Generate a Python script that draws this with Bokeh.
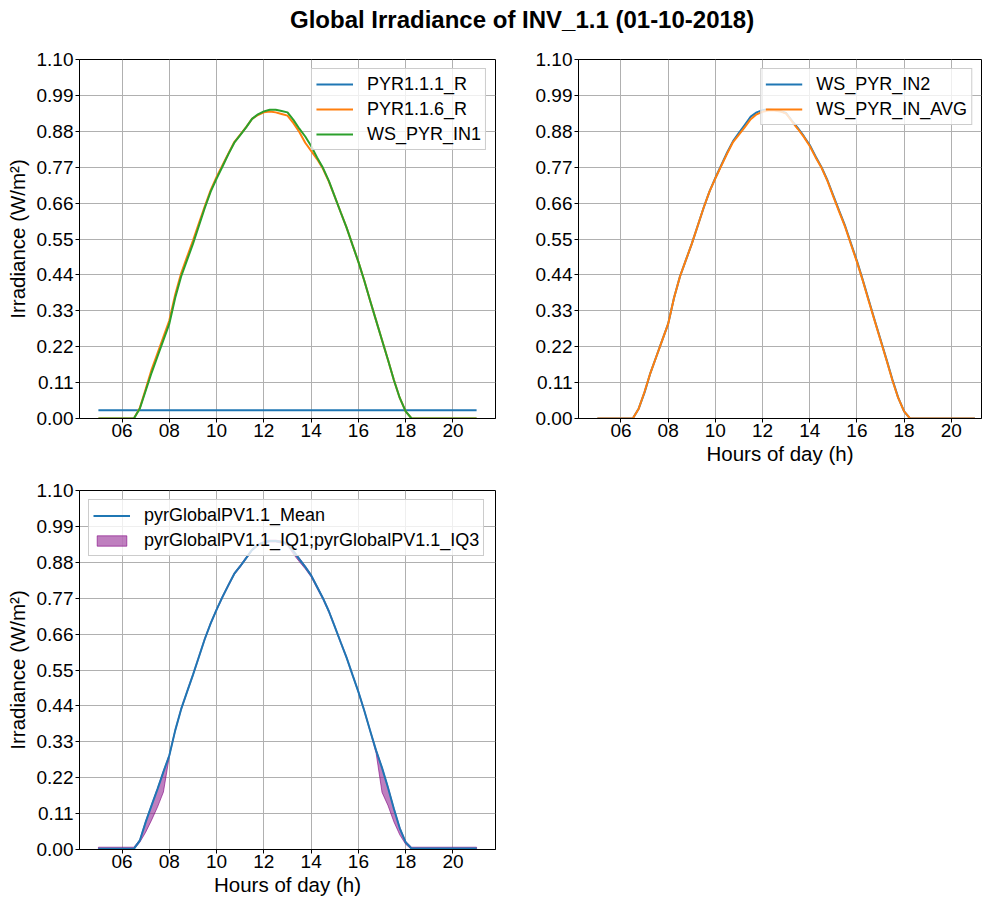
from bokeh.plotting import figure
from bokeh.layouts import column, row
from bokeh.models import (FixedTicker, PrintfTickFormatter, Legend, LegendItem,
                          Div, Range1d)
from bokeh.embed import file_html
from bokeh.resources import INLINE

# ---------------- data ----------------
title_text = "Global Irradiance of INV_1.1 (01-10-2018)"
x_label = "Hours of day (h)"
y_label = "Irradiance (W/m²)"

x_ticks = [6, 8, 10, 12, 14, 16, 18, 20]
y_ticks = [0.0, 0.11, 0.22, 0.33, 0.44, 0.55, 0.66, 0.77, 0.88, 0.99, 1.10]

hours = [5.0, 6.5, 6.75, 7.0, 7.25, 7.5, 7.75, 8.0, 8.25, 8.5, 8.75, 9.0,
         9.25, 9.5, 9.75, 10.0, 10.25, 10.5, 10.75, 11.0, 11.25, 11.5, 11.75,
         12.0, 12.25, 12.5, 12.75, 13.0, 13.25, 13.5, 13.75, 14.0, 14.25,
         14.5, 14.75, 15.0, 15.25, 15.5, 15.75, 16.0, 16.25, 16.5, 16.75,
         17.0, 17.25, 17.5, 17.75, 18.0, 18.25, 21.0]

pyr111_r = [0.025, 0.025, 0.025, 0.025, 0.025, 0.025, 0.025, 0.025, 0.025, 0.025,
            0.025, 0.025, 0.025, 0.025, 0.025, 0.025, 0.025, 0.025, 0.025, 0.025,
            0.025, 0.025, 0.025, 0.025, 0.025, 0.025, 0.025, 0.025, 0.025, 0.025,
            0.025, 0.025, 0.025, 0.025, 0.025, 0.025, 0.025, 0.025, 0.025, 0.025,
            0.025, 0.025, 0.025, 0.025, 0.025, 0.025, 0.025, 0.025, 0.025, 0.025]

pyr116_r = [0, 0, 0.032, 0.09, 0.15, 0.20, 0.25, 0.30, 0.38, 0.445, 0.495, 0.545,
            0.598, 0.65, 0.70, 0.74, 0.776, 0.812, 0.847, 0.87, 0.893, 0.918, 0.93,
            0.938, 0.941, 0.938, 0.933, 0.928, 0.905, 0.878, 0.845, 0.82, 0.795,
            0.765, 0.726, 0.68, 0.632, 0.585, 0.532, 0.48, 0.422, 0.36, 0.30,
            0.24, 0.18, 0.118, 0.063, 0.022, 0.0, 0.0]

ws_pyr_in1 = [0, 0, 0.03, 0.085, 0.14, 0.19, 0.24, 0.29, 0.37, 0.435, 0.485, 0.535,
              0.59, 0.645, 0.695, 0.735, 0.772, 0.81, 0.845, 0.868, 0.892, 0.918, 0.932,
              0.941, 0.946, 0.946, 0.942, 0.938, 0.915, 0.888, 0.864, 0.835, 0.80,
              0.768, 0.728, 0.68, 0.632, 0.585, 0.532, 0.48, 0.422, 0.36, 0.30,
              0.24, 0.18, 0.118, 0.063, 0.022, 0.0, 0.0]

ws_pyr_in2 = [0, 0, 0.03, 0.08, 0.14, 0.19, 0.24, 0.29, 0.37, 0.435, 0.485, 0.535,
              0.59, 0.645, 0.695, 0.737, 0.776, 0.815, 0.85, 0.875, 0.90, 0.925, 0.938,
              0.945, 0.947, 0.945, 0.942, 0.936, 0.912, 0.89, 0.865, 0.838, 0.803,
              0.77, 0.73, 0.683, 0.636, 0.59, 0.536, 0.483, 0.424, 0.363, 0.302,
              0.242, 0.182, 0.12, 0.064, 0.022, 0, 0]

ws_pyr_in_avg = [0, 0, 0.03, 0.082, 0.14, 0.19, 0.24, 0.29, 0.37, 0.435, 0.485, 0.535,
                 0.59, 0.645, 0.695, 0.736, 0.774, 0.812, 0.847, 0.87, 0.893, 0.917, 0.932,
                 0.94, 0.944, 0.944, 0.941, 0.934, 0.91, 0.887, 0.863, 0.835, 0.80,
                 0.768, 0.728, 0.68, 0.633, 0.587, 0.533, 0.48, 0.422, 0.36, 0.30,
                 0.24, 0.18, 0.118, 0.063, 0.022, 0, 0]

pv_mean = [0.002, 0.002, 0.027, 0.084, 0.135, 0.185, 0.238, 0.288, 0.365, 0.43, 0.483, 0.535,
           0.59, 0.645, 0.693, 0.735, 0.774, 0.81, 0.845, 0.868, 0.893, 0.918, 0.933,
           0.941, 0.945, 0.945, 0.942, 0.937, 0.914, 0.89, 0.866, 0.84, 0.805,
           0.77, 0.73, 0.683, 0.635, 0.588, 0.535, 0.483, 0.425, 0.363, 0.303,
           0.25, 0.19, 0.125, 0.065, 0.022, 0.003, 0.003]

pv_iq1 = [0, 0, 0.022, 0.053, 0.09, 0.13, 0.176, 0.285, 0.362, 0.427, 0.48, 0.532,
          0.587, 0.642, 0.69, 0.732, 0.771, 0.807, 0.842, 0.865, 0.89, 0.915, 0.93,
          0.938, 0.942, 0.942, 0.939, 0.932, 0.905, 0.882, 0.86, 0.835, 0.8,
          0.766, 0.726, 0.68, 0.632, 0.585, 0.532, 0.48, 0.422, 0.36, 0.295,
          0.175, 0.135, 0.085, 0.045, 0.016, 0, 0]

pv_iq3 = [0.007, 0.007, 0.03, 0.087, 0.138, 0.188, 0.241, 0.291, 0.368, 0.433, 0.486, 0.538,
          0.593, 0.648, 0.696, 0.738, 0.777, 0.813, 0.848, 0.871, 0.896, 0.921, 0.936,
          0.944, 0.948, 0.948, 0.945, 0.94, 0.917, 0.893, 0.869, 0.843, 0.808,
          0.773, 0.733, 0.686, 0.638, 0.591, 0.538, 0.486, 0.428, 0.366, 0.306,
          0.253, 0.193, 0.128, 0.068, 0.025, 0.007, 0.007]

# ---------------- style ----------------
FONT = "Liberation Sans"
BLUE, ORANGE, GREEN = "#1f77b4", "#ff7f0e", "#2ca02c"


def make_fig(width, x_end, border_left, border_right, border_top, border_bottom,
             xlab=None, ylab=None):
    p = figure(width=width, height=430, x_range=Range1d(4.2, x_end),
               y_range=Range1d(0, 1.10), output_backend="svg", toolbar_location=None,
               min_border_left=border_left, min_border_right=border_right,
               min_border_top=border_top, min_border_bottom=border_bottom)
    p.background_fill_color = "white"
    p.border_fill_color = "white"
    p.outline_line_color = "black"
    p.outline_line_width = 1
    p.outline_line_alpha = 1
    p.xaxis.ticker = FixedTicker(ticks=x_ticks)
    p.xaxis.formatter = PrintfTickFormatter(format="%02d")
    p.yaxis.ticker = FixedTicker(ticks=y_ticks)
    p.yaxis.formatter = PrintfTickFormatter(format="%.2f")
    for ax in (p.xaxis, p.yaxis):
        ax.axis_line_color = "black"
        ax.major_tick_line_color = "black"
        ax.major_tick_out = 4
        ax.major_tick_in = 0
        ax.minor_tick_line_color = None
        ax.major_label_text_font = FONT
        ax.major_label_text_font_size = "19px"
        ax.major_label_text_color = "black"
        ax.axis_label_text_font = FONT
        ax.axis_label_text_font_size = "20.5px"
        ax.axis_label_text_font_style = "normal"
        ax.axis_label_text_color = "black"
    p.xaxis.major_label_standoff = 1
    p.yaxis.major_label_standoff = 2
    p.xaxis.axis_label_standoff = 2
    p.yaxis.axis_label_standoff = 5
    if xlab:
        p.xaxis.axis_label = xlab
    if ylab:
        p.yaxis.axis_label = ylab
    for g in (p.xgrid, p.ygrid):
        g.grid_line_color = "#b0b0b0"
        g.grid_line_width = 1
        g.grid_line_alpha = 1
    return p


def style_legend(leg, location, margin, glyph_h=22):
    leg.location = location
    leg.label_text_font = FONT
    leg.label_text_font_size = "18px"
    leg.label_text_color = "black"
    leg.border_line_color = "#cccccc"
    leg.border_line_alpha = 1
    leg.background_fill_color = "white"
    leg.background_fill_alpha = 0.8
    leg.padding = 4
    leg.margin = margin
    leg.spacing = 3
    leg.glyph_width = 37
    leg.glyph_height = glyph_h
    leg.label_height = 22
    leg.label_standoff = 14


# Panel 1
p1 = make_fig(500, 21.8, 79, 5, 19, 52, ylab=y_label)
r11 = p1.line(hours, pyr111_r, line_color=BLUE, line_width=2)
r12 = p1.line(hours, pyr116_r, line_color=ORANGE, line_width=2)
r13 = p1.line(hours, ws_pyr_in1, line_color=GREEN, line_width=2)
leg1 = Legend(items=[LegendItem(label="PYR1.1.1_R", renderers=[r11]),
                     LegendItem(label="PYR1.1.6_R", renderers=[r12]),
                     LegendItem(label="WS_PYR_IN1", renderers=[r13])])
style_legend(leg1, "top_right", 9)
p1.add_layout(leg1)

# Panel 2
p2 = make_fig(482, 21.28, 78, 1, 19, 52, xlab=x_label)
r21 = p2.line(hours, ws_pyr_in2, line_color=BLUE, line_width=2)
r22 = p2.line(hours, ws_pyr_in_avg, line_color=ORANGE, line_width=2)
leg2 = Legend(items=[LegendItem(label="WS_PYR_IN2", renderers=[r21]),
                     LegendItem(label="WS_PYR_IN_AVG", renderers=[r22])])
style_legend(leg2, "top_right", 9)
p2.add_layout(leg2)

# Panel 3
p3 = make_fig(500, 21.8, 79, 5, 20, 51, xlab=x_label, ylab=y_label)
band_x = hours + hours[::-1]
band_y = pv_iq3 + pv_iq1[::-1]
r32 = p3.patch(band_x, band_y, fill_color="purple", fill_alpha=0.5,
               line_color="purple", line_alpha=0.6, line_width=1)
r31 = p3.line(hours, pv_mean, line_color=BLUE, line_width=2)
leg3 = Legend(items=[LegendItem(label="pyrGlobalPV1.1_Mean", renderers=[r31]),
                     LegendItem(label="pyrGlobalPV1.1_IQ1;pyrGlobalPV1.1_IQ3",
                                renderers=[r32])])
style_legend(leg3, "top_left", 9, glyph_h=13)
p3.add_layout(leg3)

title = Div(text=title_text, width=982, height=40, margin=0,
            styles={"text-align": "left", "text-indent": "290px",
                    "font-family": FONT, "white-space": "nowrap",
                    "font-size": "24px", "font-weight": "bold",
                    "line-height": "40px", "color": "black", "width": "982px"})

layout = column(title, row(p1, p2), p3)

open("out.html", "w").write(file_html(layout, INLINE))
